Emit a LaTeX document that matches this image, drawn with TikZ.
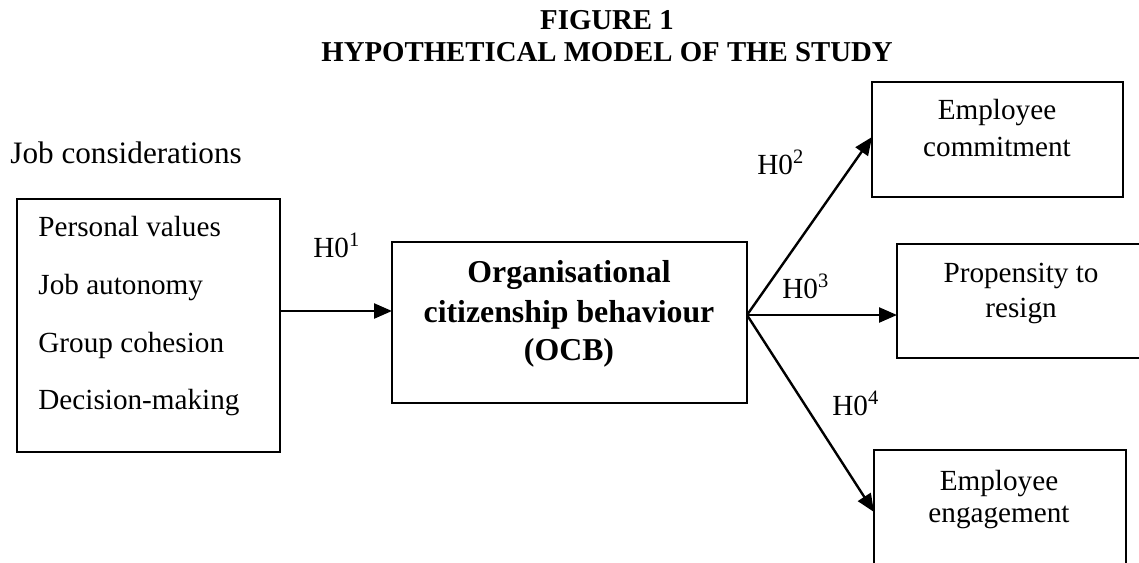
\documentclass[tikz,border=0pt]{standalone}
\usepackage{fontspec}
\setmainfont{Liberation Serif}
\usetikzlibrary{arrows.meta}
\tikzset{
  frame/.style={draw, line width=1.2pt, inner sep=0pt, outer sep=0pt},
  txt/.style={inner sep=0pt, anchor=base, font=\fontsize{14.6}{17}\selectfont},
  txtl/.style={txt, anchor=base west},
  jobt/.style={txtl, font=\fontsize{15.6}{18}\selectfont},
  ttl/.style={inner sep=0pt, anchor=base, font=\fontsize{14.4}{17}\selectfont\bfseries},
  ocbt/.style={inner sep=0pt, anchor=base, font=\fontsize{15.9}{18}\selectfont\bfseries},
  arr/.style={line width=1.2pt, -{Triangle[length=9pt,width=7.5pt]}},
}
\begin{document}
\begin{tikzpicture}[x=0.5pt,y=-0.5pt]
\useasboundingbox (0,0) rectangle (1139,562);
\clip (0,0) rectangle (1139,562);

% title
\node[ttl] (t1) at (607,29) {FIGURE 1};
\node[ttl] (t2) at (607,61) {HYPOTHETICAL MODEL OF THE STUDY};

% left block
\node[jobt] (job) at (10,163) {Job considerations};
\node[frame, minimum width=131.5pt, minimum height=126.5pt] (lb) at (148.5,325.5) {};
\node[txtl] (p1) at (38,236.7) {Personal values};
\node[txtl] (p2) at (38,294.4) {Job autonomy};
\node[txtl] (p3) at (38,352.1) {Group cohesion};
\node[txtl] (p4) at (38,409.8) {Decision-making};

% OCB
\node[frame, minimum width=177.5pt, minimum height=80.5pt] (ocb) at (569.5,322.5) {};
\node[ocbt] (o1) at (569,282) {Organisational};
\node[ocbt] (o2) at (569,322) {citizenship behaviour};
\node[ocbt] (o3) at (569,360) {(OCB)};

% right boxes
\node[frame, minimum width=125.5pt, minimum height=57.5pt] (ec) at (997.5,139.5) {};
\node[txt] (ec1) at (997,119) {Employee};
\node[txt] (ec2) at (997,156) {commitment};

\node[frame, minimum width=124pt, minimum height=57pt] (pr) at (1021,301) {};
\node[txt] (pr1) at (1021,282) {Propensity to};
\node[txt] (pr2) at (1021,317) {resign};

\node[frame, minimum width=126pt, minimum height=75pt] (en) at (1000,525) {};
\node[txt] (en1) at (999,490) {Employee};
\node[txt] (en2) at (999,522) {engagement};

% hypothesis labels
\node[txtl] (h1) at (313,257) {H0\textsuperscript{1}};
\node[txtl] (h2) at (757,174) {H0\textsuperscript{2}};
\node[txtl] (h3) at (782,298) {H0\textsuperscript{3}};
\node[txtl] (h4) at (832,415) {H0\textsuperscript{4}};

% connectors
\draw[arr] ([yshift=7.25pt]lb.east) -- ([yshift=7.25pt]lb.east -| ocb.west);
\draw[arr] ([yshift=3.75pt]ocb.east) -- ([yshift=1.25pt]ec.west);
\draw[arr] ([yshift=3.75pt]ocb.east) -- ([yshift=3.75pt]ocb.east -| pr.west);
\draw[arr] ([yshift=3.75pt]ocb.east) -- ([yshift=6.5pt]en.west);
\end{tikzpicture}
\end{document}
